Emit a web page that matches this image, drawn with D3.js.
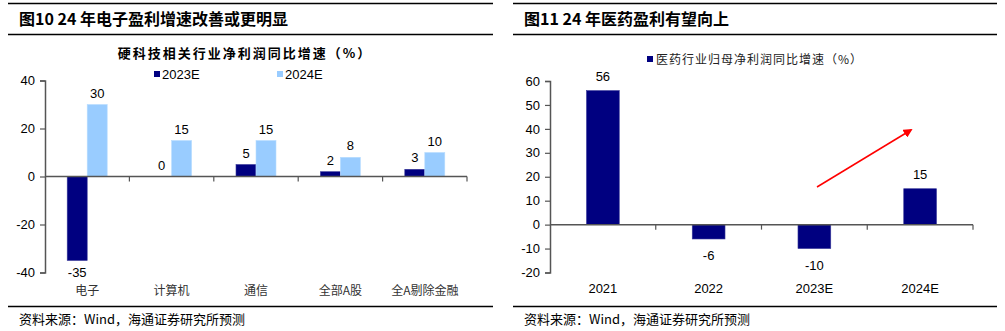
<!DOCTYPE html>
<html><head><meta charset="utf-8">
<script src="https://cdn.jsdelivr.net/npm/d3@7/dist/d3.min.js"></script>
<style>
body{margin:0;background:#fff;}
svg text{font-family:"Liberation Sans",Arial,"Noto Sans CJK SC",sans-serif;}
.cjk{font-family:"Noto Sans CJK SC",sans-serif;}
</style></head><body>
<svg id="c" width="1005" height="331"></svg>
<script>
// ---- Data: left chart ----
const techCategories = ["电子", "计算机", "通信", "全部A股", "全A剔除金融"];
const seriesNames = ["2023E", "2024E"];
const values2023E = [-35, 0, 5, 2, 3];
const values2024E = [30, 15, 15, 8, 10];
const techTicks = [40, 20, 0, -20, -40];

// ---- Data: right chart ----
const pharmaYears = ["2021", "2022", "2023E", "2024E"];
const pharmaValues = [56, -6, -10, 15];
const pharmaTicks = [60, 50, 40, 30, 20, 10, 0, -10, -20];

const svg = d3.select("#c");
const navy = "#000080", light = "#99CCFF";

function frame(x0, x1, title) {
  svg.append("line").attr("x1", x0).attr("x2", x1).attr("y1", 3.5).attr("y2", 3.5).attr("stroke", "#000").attr("stroke-width", 1.3);
  svg.append("line").attr("x1", x0).attr("x2", x1).attr("y1", 34.5).attr("y2", 34.5).attr("stroke", "#000").attr("stroke-width", 1.3);
  svg.append("line").attr("x1", x0).attr("x2", x1).attr("y1", 306.5).attr("y2", 306.5).attr("stroke", "#000").attr("stroke-width", 1.3);
  svg.append("text").attr("class", "cjk").attr("x", x0 + 11).attr("y", 25).attr("font-size", 16).attr("font-weight", "bold").text(title);
  svg.append("text").attr("class", "cjk").attr("x", x0 + 11).attr("y", 324).attr("font-size", 13).text("资料来源：Wind，海通证券研究所预测");
}
frame(8, 493, "图10 24 年电子盈利增速改善或更明显");
frame(513, 997, "图11 24 年医药盈利有望向上");

function yAxis(g, y, ticks, x) {
  const ax = g.append("g").attr("transform", `translate(${x},0)`)
    .call(d3.axisLeft(y).tickValues(ticks).tickSize(5).tickPadding(5).tickFormat(d => String(d)));
  ax.select(".domain").attr("stroke", "#555").attr("stroke-width", 1.5);
  ax.selectAll(".tick line").attr("stroke", "#555").attr("stroke-width", 1.2);
  ax.selectAll("text").attr("font-size", 13).attr("fill", "#000").attr("font-family", "Liberation Sans, Arial, sans-serif");
}

// ---- Left chart ----
{
  const g = svg.append("g");
  const x = d3.scaleBand().domain(techCategories).range([45, 467]);
  const y = d3.scaleLinear().domain([-40, 40]).range([272.5, 80.5]);
  const bw = 20;
  const off = { "2023E": x.bandwidth() / 2 - bw, "2024E": x.bandwidth() / 2 };

  g.append("text").attr("class", "cjk").attr("x", 245).attr("y", 58).attr("text-anchor", "middle")
    .attr("font-size", 13).attr("font-weight", "bold").attr("letter-spacing", 2).text("硬科技相关行业净利润同比增速（%）");

  // legend
  const legX = { "2023E": 154, "2024E": 277 };
  seriesNames.forEach((s, i) => {
    g.append("rect").attr("x", legX[s]).attr("y", 71).attr("width", 6).attr("height", 6).attr("fill", i ? light : navy);
    g.append("text").attr("x", legX[s] + 8).attr("y", 79).attr("font-size", 13).text(s);
  });

  yAxis(g, y, techTicks, 45);

  const series = [values2023E, values2024E];
  series.forEach((vals, si) => {
    const s = seriesNames[si];
    g.selectAll(null).data(vals).enter().append("rect")
      .attr("x", (d, i) => x(techCategories[i]) + off[s])
      .attr("y", d => y(Math.max(0, d)))
      .attr("width", bw)
      .attr("height", d => Math.abs(y(d) - y(0)))
      .attr("fill", si ? light : navy)
      .attr("stroke", si ? "#b8dcff" : "#3a3a9a").attr("stroke-width", 0.6);
    g.selectAll(null).data(vals).enter().append("text")
      .attr("x", (d, i) => x(techCategories[i]) + off[s] + bw / 2)
      .attr("y", d => d < 0 ? y(d) + 16 : y(d) - 7)
      .attr("text-anchor", "middle").attr("font-size", 13).text(d => String(d));
  });

  // x axis at zero
  const xa = g.append("g").attr("transform", `translate(0,${y(0)})`);
  xa.append("line").attr("x1", 45).attr("x2", 467).attr("stroke", "#555").attr("stroke-width", 1.5);
  const bounds = techCategories.map(c => x(c) + x.bandwidth());
  xa.selectAll(null).data(bounds).enter().append("line")
    .attr("x1", d => d).attr("x2", d => d).attr("y1", 0).attr("y2", 5).attr("stroke", "#555").attr("stroke-width", 1.2);
  g.selectAll(null).data(techCategories).enter().append("text").attr("class", "cjk")
    .attr("x", d => x(d) + x.bandwidth() / 2).attr("y", 295).attr("text-anchor", "middle")
    .attr("font-size", 12).attr("fill", "#333").text(d => d);
}

// ---- Right chart ----
{
  const g = svg.append("g");
  const x = d3.scaleBand().domain(pharmaYears).range([550, 973]).paddingInner(0.69).paddingOuter(0.345);
  const xc = d3.scaleBand().domain(pharmaYears).range([550, 973]);
  const y = d3.scaleLinear().domain([-20, 60]).range([272.5, 81]);

  g.append("rect").attr("x", 647).attr("y", 56).attr("width", 6).attr("height", 6).attr("fill", navy);
  g.append("text").attr("class", "cjk").attr("x", 656).attr("y", 64).attr("font-size", 12).attr("fill", "#222")
    .attr("letter-spacing", 1).text("医药行业归母净利润同比增速（%）");

  yAxis(g, y, pharmaTicks, 550);

  g.selectAll(null).data(pharmaValues).enter().append("rect")
    .attr("x", (d, i) => x(pharmaYears[i]))
    .attr("y", d => y(Math.max(0, d)))
    .attr("width", x.bandwidth())
    .attr("height", d => Math.abs(y(d) - y(0)))
    .attr("fill", navy).attr("stroke", "#3a3a9a").attr("stroke-width", 0.6);
  g.selectAll(null).data(pharmaValues).enter().append("text")
    .attr("x", (d, i) => x(pharmaYears[i]) + x.bandwidth() / 2)
    .attr("y", d => d < 0 ? y(d) + 21 : y(d) - 10)
    .attr("text-anchor", "middle").attr("font-size", 13).text(d => String(d));

  const xa = g.append("g").attr("transform", `translate(0,${y(0)})`);
  xa.append("line").attr("x1", 550).attr("x2", 973).attr("stroke", "#555").attr("stroke-width", 1.5);
  xa.selectAll(null).data(pharmaYears).enter().append("line")
    .attr("x1", d => xc(d) + xc.bandwidth()).attr("x2", d => xc(d) + xc.bandwidth())
    .attr("y1", 0).attr("y2", 5).attr("stroke", "#555").attr("stroke-width", 1.2);
  g.selectAll(null).data(pharmaYears).enter().append("text")
    .attr("x", d => xc(d) + xc.bandwidth() / 2).attr("y", 293).attr("text-anchor", "middle")
    .attr("font-size", 13).text(d => d);

  // red arrow
  svg.append("defs").append("marker").attr("id", "ah").attr("viewBox", "0 0 10 10").attr("refX", 8).attr("refY", 5)
    .attr("markerWidth", 6).attr("markerHeight", 6).attr("orient", "auto")
    .append("path").attr("d", "M0,0 L10,5 L0,10 z").attr("fill", "#ff0000");
  g.append("line").attr("x1", 817).attr("y1", 187).attr("x2", 911).attr("y2", 130)
    .attr("stroke", "#ff0000").attr("stroke-width", 1.5).attr("marker-end", "url(#ah)");
}
</script>
</body></html>
